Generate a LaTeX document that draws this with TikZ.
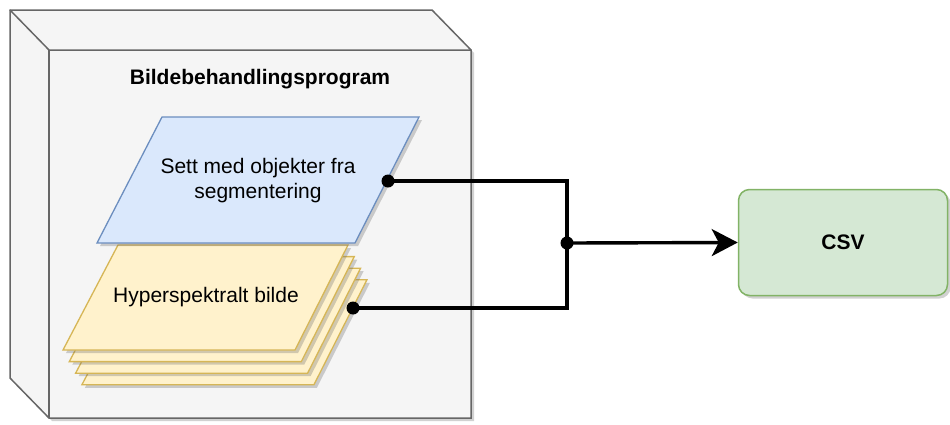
\documentclass[tikz,border=0pt]{standalone}
\usepackage{fontspec}
\setmainfont{Liberation Sans}
\usetikzlibrary{arrows.meta,shadows}

\definecolor{boxfill}{HTML}{F5F5F5}
\definecolor{boxline}{HTML}{666666}
\definecolor{bluefill}{HTML}{DAE8FC}
\definecolor{blueline}{HTML}{6C8EBF}
\definecolor{yelfill}{HTML}{FFF2CC}
\definecolor{yelline}{HTML}{D6B656}
\definecolor{grnfill}{HTML}{D5E8D4}
\definecolor{grnline}{HTML}{82B366}

\tikzset{
  shad/.style={drop shadow={shadow xshift=3pt,shadow yshift=-3pt,opacity=.3,fill=black!60}},
  sheet/.style={fill=yelfill,draw=yelline,line width=1.3pt,shad},
  wire/.style={line width=3.4pt},
  dot/.style={fill=black}
}

\begin{document}
\begin{tikzpicture}[x=1pt,y=-1pt,font=\fontsize{21}{25}\selectfont]
  \useasboundingbox (0,0) rectangle (950,424);

  % program box
  \begin{scope}[line width=1.5pt,draw=boxline]
    \draw[fill=boxfill,shad] (10,10) -- (432,10) -- (471,50) -- (471,418)
      -- (49,418) -- (10,378) -- cycle;
    \draw[boxline] (10,10) -- (49,50) -- (471,50);
    \draw[boxline] (49,50) -- (49,418);
  \end{scope}
  \node (title) at (260,79) {\bfseries Bildebehandlingsprogram};

  % stack of images
  \foreach \k in {3,2,1,0}{
    \draw[sheet,shift={(6.3*\k,11.6*\k)}] (118,245) -- (348,245) -- (295,350) -- (63,350) -- cycle;
  }
  \node (hyper) at (206,297) {Hyperspektralt bilde};

  % segmented objects
  \draw[fill=bluefill,draw=blueline,line width=1.3pt,shad]
    (162,117) -- (419,117) -- (355,243) -- (97,243) -- cycle;
  \node[align=center] (objects) at (258,181) {Sett med objekter fra\\segmentering};

  % output
  \node[draw=grnline,fill=grnfill,line width=1.5pt,rounded corners=11pt,
    minimum width=209pt,minimum height=106pt,shad] (csv) at (843,242.5) {\bfseries CSV};

  \coordinate (setOut) at (388,181);
  \coordinate (hyperOut) at (353,308);
  \coordinate (joint) at (567,243);

  \draw[wire] (setOut) -| (joint) |- (hyperOut);
  \draw[wire,-{Stealth[length=26pt,width=27pt,inset=7pt]}] (joint) -- (csv.west);

  \fill[dot] (setOut) circle [radius=6.5pt];
  \fill[dot] (hyperOut) circle [radius=6.5pt];
  \fill[dot] (joint) circle [radius=6.5pt];
\end{tikzpicture}
\end{document}
